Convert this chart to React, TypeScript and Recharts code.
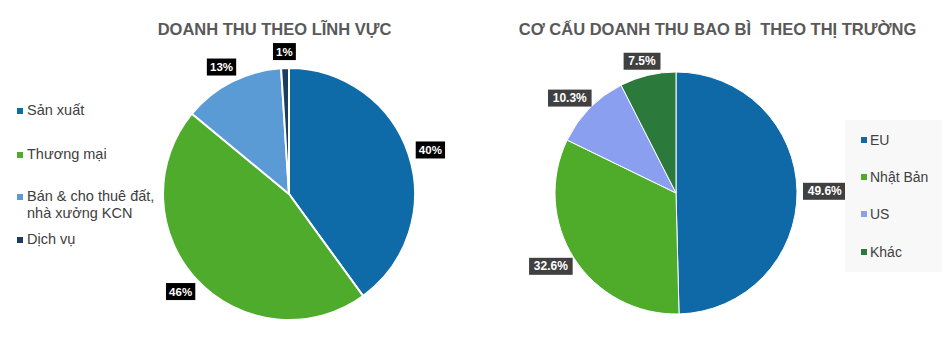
import * as React from 'react'
import { PieChart, Pie, Cell } from 'recharts'

// left chart: revenue by sector (%)
const sectorNames = ['Sản xuất', 'Thương mại', 'Bán & cho thuê đất, nhà xưởng KCN', 'Dịch vụ']
const sectorValues = [40, 46, 13, 1]
const sectorColors = ['#0f6aa8', '#4fab2b', '#5b9bd5', '#1b3d5f']

// right chart: packaging revenue by market (%)
const marketNames = ['EU', 'Nhật Bản', 'US', 'Khác']
const marketValues = [49.6, 32.6, 10.3, 7.5]
const marketColors = ['#0f69a6', '#4fac2a', '#8a9ff0', '#2b7a3b']

const sectorData = sectorNames.map((name, i) => ({ name, value: sectorValues[i] }))
const marketData = marketNames.map((name, i) => ({ name, value: marketValues[i] }))

const FONT = '"Liberation Sans", Arial, sans-serif'
const RADIAN = Math.PI / 180
const NO_MARGIN = { top: 0, right: 0, bottom: 0, left: 0 }

function makeLabel(fmt: (v: number) => string, boxFill: string, gap: number, fontSize: number) {
  return (props: any) => {
    const { cx, cy, midAngle, outerRadius, value } = props
    const text = fmt(value)
    const w = text.length * fontSize * 0.56 + 10
    const h = 17
    const c = Math.cos(-midAngle * RADIAN)
    const s = Math.sin(-midAngle * RADIAN)
    const r = outerRadius + gap
    const x = cx + r * c + (w / 2) * c
    const y = cy + r * s + (h / 2) * s
    return (
      <g>
        <rect x={x - w / 2} y={y - h / 2} width={w} height={h} fill={boxFill} />
        <text
          x={x}
          y={y}
          textAnchor="middle"
          dominantBaseline="central"
          fill="#fff"
          fontFamily={FONT}
          fontWeight="bold"
          fontSize={fontSize}
        >
          {text}
        </text>
      </g>
    )
  }
}

const leftTops = [102, 146, 188, 231]

function LeftLegend() {
  return (
    <div style={{ position: 'absolute', left: 0, top: 0, width: 150, height: 339, fontFamily: FONT, fontSize: 14.5, color: '#404040' }}>
      {sectorNames.map((name, i) => (
        <div key={name} style={{ position: 'absolute', left: 17, top: leftTops[i], display: 'flex', alignItems: 'flex-start', lineHeight: '17px' }}>
          <span style={{ width: 6, height: 6, background: sectorColors[i], marginTop: 6, marginRight: 4, flexShrink: 0 }} />
          <span style={{ width: 130 }}>{name}</span>
        </div>
      ))}
    </div>
  )
}

function RightLegend() {
  return (
    <div style={{ position: 'absolute', left: 845, top: 120, width: 97, height: 152, background: '#f8f8f8', fontFamily: FONT, fontSize: 14, color: '#404040', paddingTop: 1, boxSizing: 'border-box' }}>
      {marketNames.map((name, i) => (
        <div key={name} style={{ display: 'flex', alignItems: 'center', height: 37.3, paddingLeft: 16 }}>
          <span style={{ width: 6, height: 6, background: marketColors[i], marginRight: 3 }} />
          <span>{name}</span>
        </div>
      ))}
    </div>
  )
}

const titleStyle: React.CSSProperties = {
  position: 'absolute',
  top: 20,
  fontFamily: FONT,
  fontWeight: 'bold',
  fontSize: 16.5,
  color: '#595959',
  whiteSpace: 'pre',
  textAlign: 'center',
}

export default function App() {
  return (
    <div style={{ position: 'fixed', left: 0, top: 0, width: 942, height: 339, background: '#fff', overflow: 'hidden' }}>
      <div style={{ ...titleStyle, left: 0, width: 549 }}>DOANH THU THEO LĨNH VỰC</div>
      <div style={{ ...titleStyle, left: 478, width: 479 }}>CƠ CẤU DOANH THU BAO BÌ  THEO THỊ TRƯỜNG</div>

      <div style={{ position: 'absolute', left: 0, top: 0 }}>
        <PieChart width={470} height={339} margin={NO_MARGIN}>
          <Pie
            data={sectorData}
            dataKey="value"
            nameKey="name"
            cx={289}
            cy={194}
            outerRadius={126}
            startAngle={90}
            endAngle={-270}
            stroke="#fff"
            strokeWidth={2}
            label={makeLabel((v) => `${v}%`, '#000', 8, 11.5)}
            labelLine={false}
            isAnimationActive={false}
          >
            {sectorData.map((d, i) => (
              <Cell key={d.name} fill={sectorColors[i]} />
            ))}
          </Pie>
        </PieChart>
      </div>
      <LeftLegend />

      <div style={{ position: 'absolute', left: 470, top: 0 }}>
        <PieChart width={472} height={339} margin={NO_MARGIN}>
          <Pie
            data={marketData}
            dataKey="value"
            nameKey="name"
            cx={206}
            cy={193}
            outerRadius={121}
            startAngle={90}
            endAngle={-270}
            stroke="#fff"
            strokeWidth={1}
            label={makeLabel((v) => `${v.toFixed(1)}%`, '#404040', 6, 12)}
            labelLine={false}
            isAnimationActive={false}
          >
            {marketData.map((d, i) => (
              <Cell key={d.name} fill={marketColors[i]} />
            ))}
          </Pie>
        </PieChart>
      </div>
      <RightLegend />
    </div>
  )
}
